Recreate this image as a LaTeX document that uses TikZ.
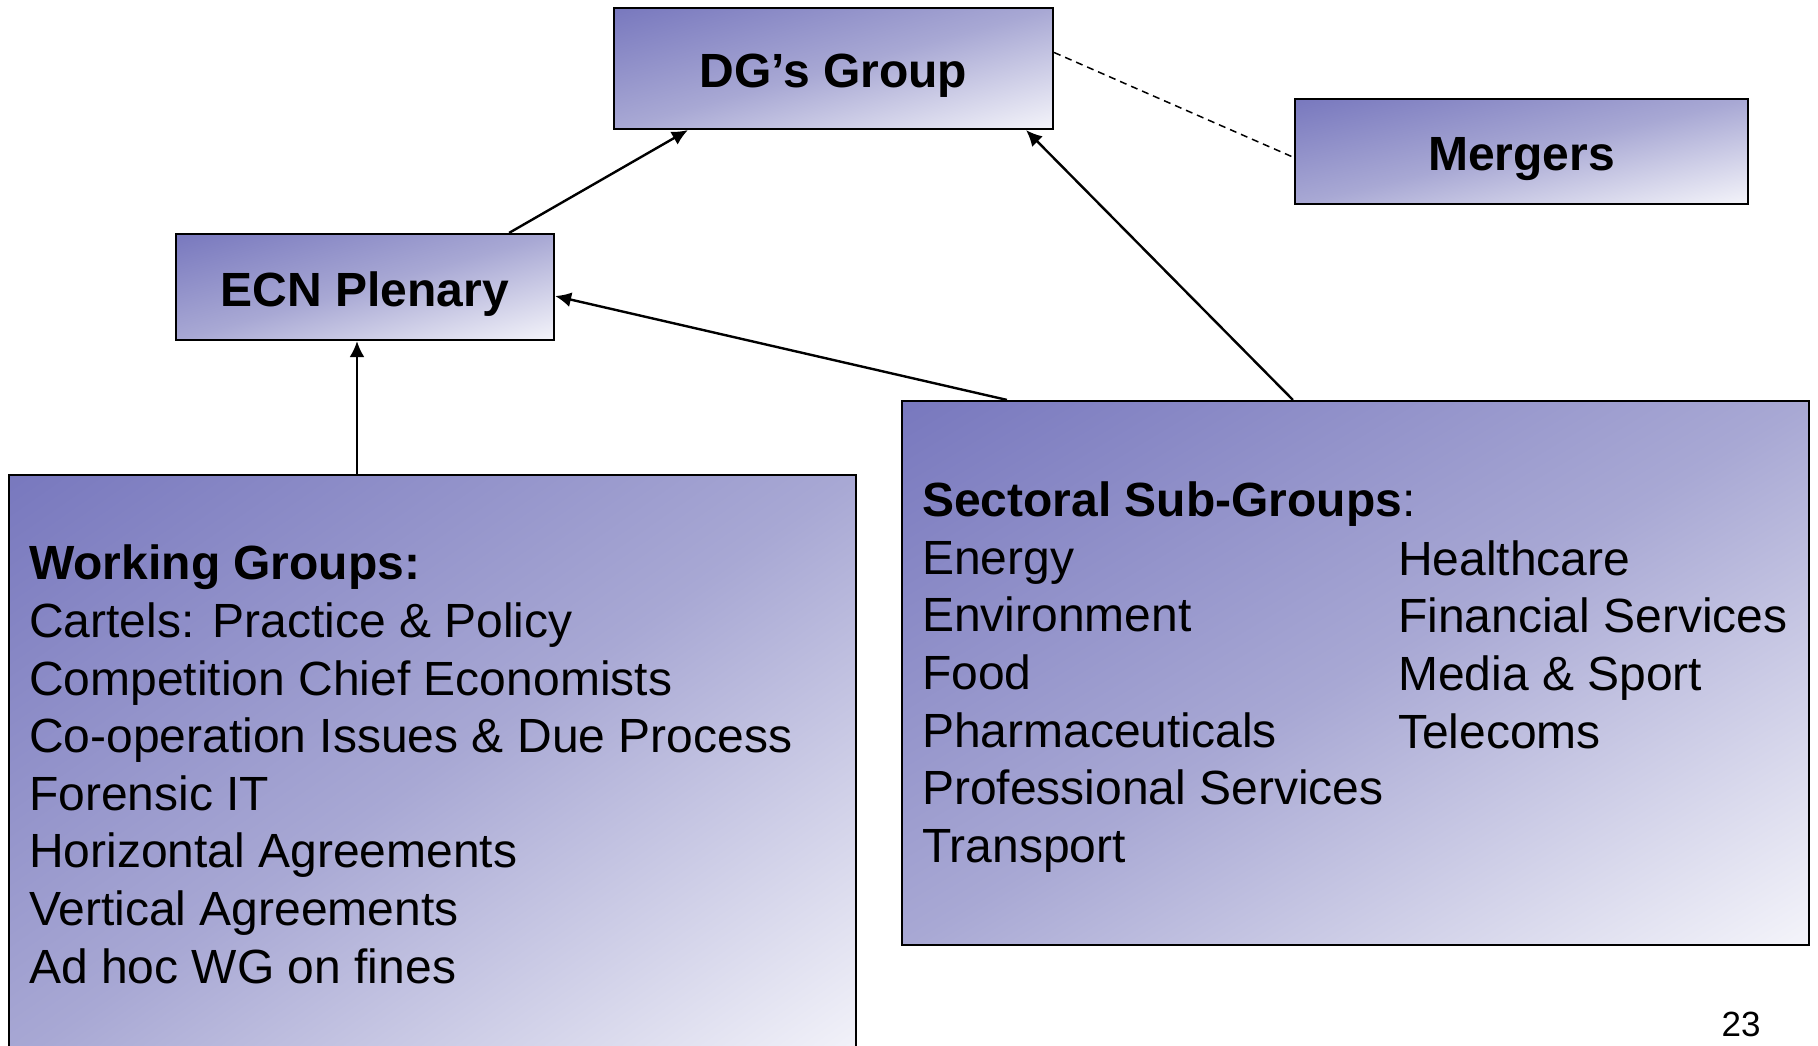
\documentclass[tikz,border=0pt]{standalone}
\usepackage{fontspec}
\setmainfont{Liberation Sans}
\usetikzlibrary{arrows.meta,positioning}

% diagonal fill: dark top left, pale bottom right
\pgfdeclarefunctionalshading{ecngrad}{\pgfpoint{0bp}{0bp}}{\pgfpoint{100bp}{100bp}}{}{
  sub 50 add 100 div
  dup 0 lt {pop 0} if dup 1 gt {pop 1} if
  dup 0.5 lt
   {2 mul dup 0.188 mul 0.471 add exch 0.086 mul 0.745 add}
   {2 mul 1 sub dup 0.298 mul 0.659 add exch 0.149 mul 0.831 add}
  ifelse
  exch dup 3 -1 roll
}

\begin{document}
\begin{tikzpicture}[x=1pt,y=-1pt,
  big/.style={font=\fontsize{48pt}{57.6pt}\selectfont},
  box/.style={draw=black,
              line width=2.2pt,
              inner sep=0pt,
              shade,
              shading=ecngrad},
  title/.style={box, font=\fontsize{48pt}{57.6pt}\selectfont\bfseries,
                text height=38pt, text depth=0pt},
  list/.style={big, align=left, anchor=north west, inner sep=0pt},
  link/.style={line width=2.4pt, ->},
  >={Latex[length=16pt,width=15pt]}]

 \clip (0,0) rectangle (1818,1045);

 % Add the boxes
 \node[title,
       minimum width=439pt,
       minimum height=121pt] (dg) at (833.5,68.5) {DG’s Group};
 \node[title,
       minimum width=453pt,
       minimum height=105pt] (mergers) at (1521.5,151.5) {Mergers};
 \node[title,
       minimum width=378pt,
       minimum height=106pt] (plenary) at (365,287) {ECN Plenary};
 \node[box,
       minimum width=907pt,
       minimum height=544pt] (ssg) at (1355.5,673) {};
 \node[box,
       minimum width=847pt,
       minimum height=590pt] (wg) at (432.5,770) {};

 % Texts in the two big boxes
 \node[list] (wglist) at (29,545) {\textbf{Working Groups:}\\
   Cartels: Practice \& Policy\\
   Competition Chief Economists\\
   Co-operation Issues \& Due Process\\
   Forensic IT\\
   Horizontal Agreements\\
   Vertical Agreements\\
   Ad hoc WG on fines};
 \node[list] (ssgleft) at (922,481.7) {\textbf{Sectoral Sub-Groups}:\\
   Energy\\
   Environment\\
   Food\\
   Pharmaceuticals\\
   Professional Services\\
   Transport};
 \node[list] (ssgright) at (1398,540.4) {Healthcare\\
   Financial Services\\
   Media \& Sport\\
   Telecoms};

 \node[font=\fontsize{35pt}{42pt}\selectfont, inner sep=0pt] (page) at (1741,1024) {23};

 % Connect the boxes
 \draw[link] ([xshift=-46pt]plenary.north east) -- ([xshift=75pt]dg.south west);
 \draw[link] ([xshift=392pt]ssg.north west) -- ([xshift=-28pt]dg.south east);
 \draw[link] ([xshift=106pt]ssg.north west) -- ([yshift=-9pt]plenary.east);
 \draw[link] ([xshift=-8pt]plenary.south |- wg.north) -- ([xshift=-8pt]plenary.south);
 \draw[line width=1.5pt, dash pattern=on 7pt off 5pt]
     ([yshift=16pt]dg.east) -- ([yshift=-6pt]mergers.west);
\end{tikzpicture}
\end{document}
